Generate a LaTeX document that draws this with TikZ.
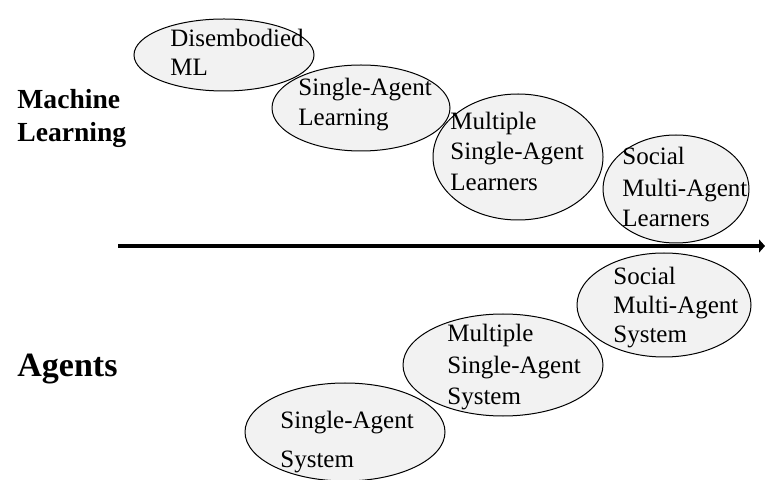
\documentclass[tikz,border=0pt]{standalone}
\usepackage{fontspec}
\setmainfont{Liberation Serif}
\usetikzlibrary{shapes.geometric,arrows.meta}
\definecolor{ellfill}{RGB}{242,242,242}
\tikzset{
  ell/.style={ellipse, draw=black, line width=0.5pt, fill=ellfill, inner sep=0pt},
  txt/.style={anchor=base west, inner sep=0pt, font=\fontsize{12.5}{14}\selectfont},
  big/.style={anchor=base west, inner sep=0pt, font=\fontsize{13.8}{16}\selectfont\bfseries},
  bigger/.style={anchor=base west, inner sep=0pt, font=\fontsize{17}{19}\selectfont\bfseries},
  axis/.style={line width=2pt, -{Triangle[length=3pt,width=6.5pt]}}
}
\begin{document}
\begin{tikzpicture}[x=0.5pt,y=-0.5pt]
\useasboundingbox (0,0) rectangle (765,480);
% ellipses
\node[ell, minimum width=90pt, minimum height=36pt] (e1) at (224,55) {};
\node[ell, minimum width=89pt, minimum height=43pt] (e2) at (361,108) {};
\node[ell, minimum width=85pt, minimum height=63pt] (e3) at (518,157) {};
\node[ell, minimum width=73pt, minimum height=54pt] (e4) at (676,189) {};
\node[ell, minimum width=87pt, minimum height=52pt] (e5) at (664,305) {};
\node[ell, minimum width=100pt, minimum height=51pt] (e6) at (503,365) {};
\node[ell, minimum width=100pt, minimum height=49pt] (e7) at (345,432) {};
% axis
\coordinate (a1) at (118,246);
\coordinate (a2) at (765,246);
\draw[axis] (a1) -- (a2);
% texts
\node[txt] (t1a) at (170,47) {Disembodied};
\node[txt] (t1b) at (170,76) {ML};
\node[txt] (t2a) at (298,96) {Single-Agent};
\node[txt] (t2b) at (298,126) {Learning};
\node[txt] (t3a) at (450,130) {Multiple};
\node[txt] (t3b) at (450,160) {Single-Agent};
\node[txt] (t3c) at (450,191) {Learners};
\node[txt] (t4a) at (622,165) {Social};
\node[txt] (t4b) at (622,197) {Multi-Agent};
\node[txt] (t4c) at (622,227) {Learners};
\node[txt] (t5a) at (613,285) {Social};
\node[txt] (t5b) at (613,314) {Multi-Agent};
\node[txt] (t5c) at (613,343) {System};
\node[txt] (t6a) at (447,342) {Multiple};
\node[txt] (t6b) at (447,373) {Single-Agent};
\node[txt] (t6c) at (447,404) {System};
\node[txt] (t7a) at (280,428) {Single-Agent};
\node[txt] (t7b) at (280,467) {System};
\node[big] (ml1) at (17,109) {Machine};
\node[big] (ml2) at (17,142) {Learning};
\node[bigger] (ag) at (17,377) {Agents};
\end{tikzpicture}
\end{document}
